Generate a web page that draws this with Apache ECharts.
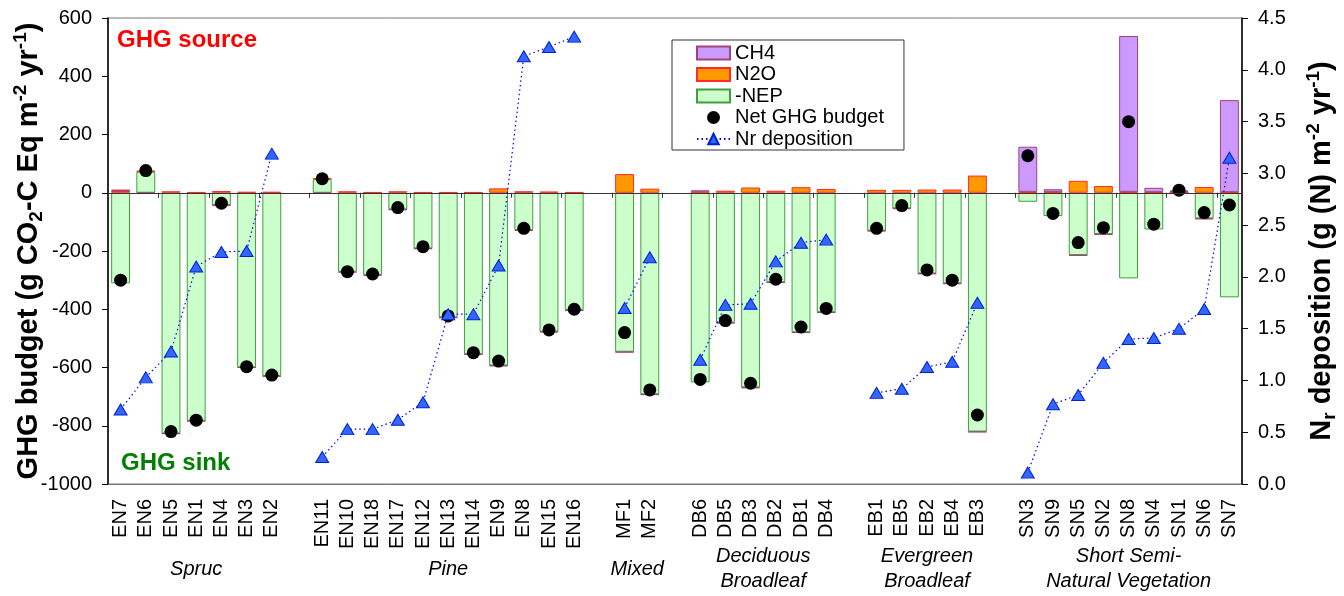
<!DOCTYPE html>
<html>
<head>
<meta charset="utf-8">
<script src="https://cdn.jsdelivr.net/npm/echarts@6/dist/echarts.min.js"></script>
<style>
  html, body { margin: 0; padding: 0; background: #fff; }
  #main { width: 1344px; height: 596px; }
</style>
</head>
<body>
<div id="main"></div>
<script>
// sites, "_n" entries are empty slots between the vegetation groups
var categories = [
  "EN7", "EN6", "EN5", "EN1", "EN4", "EN3", "EN2", "_1",
  "EN11", "EN10", "EN18", "EN17", "EN12", "EN13", "EN14", "EN9", "EN8", "EN15", "EN16", "_2",
  "MF1", "MF2", "_3",
  "DB6", "DB5", "DB3", "DB2", "DB1", "DB4", "_4",
  "EB1", "EB5", "EB2", "EB4", "EB3", "_5",
  "SN3", "SN9", "SN5", "SN2", "SN8", "SN4", "SN1", "SN6", "SN7"
];
var groupLabels = ["Spruc", "Pine", "Mixed", "Deciduous\nBroadleaf", "Evergreen\nBroadleaf", "Short Semi-\nNatural Vegetation"];

var negNEP = [
  -311, 72, -826, -783, -42, -599, -629, null,
  47, -271, -282, -57, -191, -428, -554, -593, -128, -477, -403, null,
  -546, -692, null,
  -651, -446, -668, -307, -479, -410, null,
  -130, -53, -277, -311, -820, null,
  -31, -80, -214, -142, -294, -126, 0, -88, -359
];
var n2o = [
  6, 4, 5, 2, 6, 3, 3, null,
  3, 5, 2, 5, 2, 2, 2, 15, 5, 4, 2, null,
  64, 14, null,
  4, 7, 18, 7, 19, 13, null,
  10, 10, 11, 11, 59, null,
  3, 3, 41, 23, 3, 2, 3, 20, 2
];
var ch4 = [
  5, -2, -2, -2, -2, -2, -2, null,
  -2, -3, -3, -2, -2, -2, -2, -2, -3, -2, -2, null,
  -2, -2, null,
  4, -2, -3, -2, -2, -2, null,
  -2, -3, -2, -2, -2, null,
  155, 9, -2, -2, 535, 15, 5, -3, 316
];
var netGHG = [
  -300, 76, -820, -781, -36, -597, -626, null,
  48, -271, -279, -51, -185, -423, -549, -578, -122, -471, -400, null,
  -480, -677, null,
  -641, -439, -654, -297, -461, -397, null,
  -122, -44, -265, -300, -763, null,
  127, -71, -171, -120, 244, -108, 9, -68, -42
];
var nrDep = [
  0.72, 1.03, 1.28, 2.10, 2.24, 2.25, 3.19, null,
  0.26, 0.53, 0.53, 0.62, 0.79, 1.64, 1.64, 2.11, 4.13, 4.22, 4.32, null,
  1.70, 2.19, null,
  1.20, 1.73, 1.74, 2.15, 2.33, 2.36, null,
  0.88, 0.92, 1.13, 1.18, 1.75, null,
  0.11, 0.77, 0.86, 1.17, 1.40, 1.41, 1.50, 1.69, 3.15
];

var font = "Liberation Sans, Arial, sans-serif";
var myChart = echarts.init(document.getElementById("main"));

var nameRich = {
  b: { fontSize: 29, fontWeight: "bold", fontFamily: font, color: "#000", lineHeight: 35 },
  sub: { fontSize: 19, fontWeight: "bold", fontFamily: font, color: "#000", lineHeight: 19, verticalAlign: "bottom" },
  sup: { fontSize: 19, fontWeight: "bold", fontFamily: font, color: "#000", lineHeight: 19, verticalAlign: "top" }
};

myChart.setOption({
  animation: false,
  textStyle: { fontFamily: font },
  grid: {
    left: 108, right: 102, top: 18, bottom: 112,
    outerBoundsMode: "none",
    containLabel: false,
    show: true, borderColor: "#777", borderWidth: 1
  },
  legend: {
    orient: "vertical",
    left: 672,
    top: 40,
    borderColor: "#333",
    borderWidth: 1,
    padding: [3, 20, 1, 24],
    itemWidth: 33,
    itemHeight: 13,
    itemGap: 1.5,
    textStyle: { fontSize: 20, lineHeight: 20, fontFamily: font, color: "#000" },
    data: [
      { name: "CH4", icon: "rect" },
      { name: "N2O", icon: "rect" },
      { name: "-NEP", icon: "rect" },
      { name: "Net GHG budget", icon: "circle" },
      "Nr deposition"
    ]
  },
  xAxis: [
    {
      type: "category",
      data: categories,
      position: "bottom",
      axisLine: { onZero: false, lineStyle: { color: "#777" } },
      axisTick: { show: false },
      axisLabel: {
        interval: 0,
        rotate: 90,
        margin: 15,
        fontSize: 20,
        color: "#000",
        formatter: function (v) { return v.charAt(0) === "_" ? "" : v; }
      }
    },
    {
      type: "category",
      data: categories,
      position: "top",
      z: 5,
      axisLine: { onZero: true, onZeroAxisIndex: 0, lineStyle: { color: "#333" } },
      axisTick: { show: true, inside: true, length: 5, lineStyle: { color: "#333" } },
      axisLabel: { show: false }
    }
  ],
  yAxis: [
    {
      type: "value",
      min: -1000,
      max: 600,
      interval: 200,
      position: "left",
      splitLine: { show: false },
      axisLine: { show: true, lineStyle: { color: "#000", width: 1.5 } },
      axisTick: { show: true, length: 6, lineStyle: { color: "#000" } },
      axisLabel: { fontSize: 20, color: "#000", margin: 16, formatter: function (v) { return String(v); } },
      name: "{b|GHG budget (g CO}{sub|2}{b|-C Eq m}{sup|-2}{b| yr}{sup|-1}{b|)}",
      nameLocation: "middle",
      nameRotate: 90,
      nameGap: 62,
      nameMoveOverlap: false,
      nameTextStyle: { rich: nameRich }
    },
    {
      type: "value",
      min: 0,
      max: 4.5,
      interval: 0.5,
      position: "right",
      splitLine: { show: false },
      axisLine: { show: true, lineStyle: { color: "#000", width: 1.5 } },
      axisTick: { show: true, length: 6, lineStyle: { color: "#000" } },
      axisLabel: { fontSize: 20, color: "#000", margin: 16, formatter: function (v) { return v.toFixed(1); } },
      name: "{b|N}{sub|r}{b| deposition (g (N) m}{sup|-2}{b| yr}{sup|-1}{b|)}",
      nameLocation: "middle",
      nameRotate: 90,
      nameGap: 62,
      nameMoveOverlap: false,
      nameTextStyle: { rich: nameRich }
    }
  ],
  series: [
    {
      name: "-NEP",
      type: "bar",
      stack: "ghg",
      barCategoryGap: "25%",
      data: negNEP,
      itemStyle: { color: "#ccffcc", borderColor: "#3f9f3f", borderWidth: 1 }
    },
    {
      name: "N2O",
      type: "bar",
      stack: "ghg",
      data: n2o,
      itemStyle: { color: "#ff9900", borderColor: "#ff2a2a", borderWidth: 1 }
    },
    {
      name: "CH4",
      type: "bar",
      stack: "ghg",
      data: ch4,
      itemStyle: { color: "#cc99ff", borderColor: "#a04477", borderWidth: 1 }
    },
    {
      name: "Net GHG budget",
      type: "scatter",
      data: netGHG,
      symbol: "circle",
      symbolSize: 13,
      z: 4,
      itemStyle: { color: "#000", opacity: 1 }
    },
    {
      name: "Nr deposition",
      type: "line",
      yAxisIndex: 1,
      data: nrDep,
      connectNulls: false,
      symbol: "triangle",
      symbolSize: [13, 11],
      z: 6,
      lineStyle: { color: "#0000ff", width: 1.2, type: [1.5, 3] },
      itemStyle: { color: "#3366ff", borderColor: "#0022cc", borderWidth: 1, opacity: 1 }
    }
  ]
});

// group names centred under each run of sites, positioned through the axis
var graphics = [
  { type: "text", left: 117, top: 28, style: { text: "GHG source", fill: "#ff0000", font: "bold 24px " + font } },
  { type: "text", left: 121, top: 451, style: { text: "GHG sink", fill: "#008000", font: "bold 24px " + font } }
];
var runStart = 0, g = 0;
for (var i = 0; i <= categories.length; i++) {
  if (i === categories.length || categories[i].charAt(0) === "_") {
    var mid = (runStart + i - 1) / 2;
    var x0 = myChart.convertToPixel({ xAxisIndex: 0 }, Math.floor(mid));
    var x1 = myChart.convertToPixel({ xAxisIndex: 0 }, Math.ceil(mid));
    graphics.push({
      type: "text",
      x: (x0 + x1) / 2,
      y: 569,
      style: {
        text: groupLabels[g],
        fill: "#000",
        font: "italic 20px " + font,
        align: "center",
        verticalAlign: "middle",
        lineHeight: 25
      }
    });
    g++;
    runStart = i + 1;
  }
}
myChart.setOption({ graphic: graphics });
</script>
</body>
</html>
